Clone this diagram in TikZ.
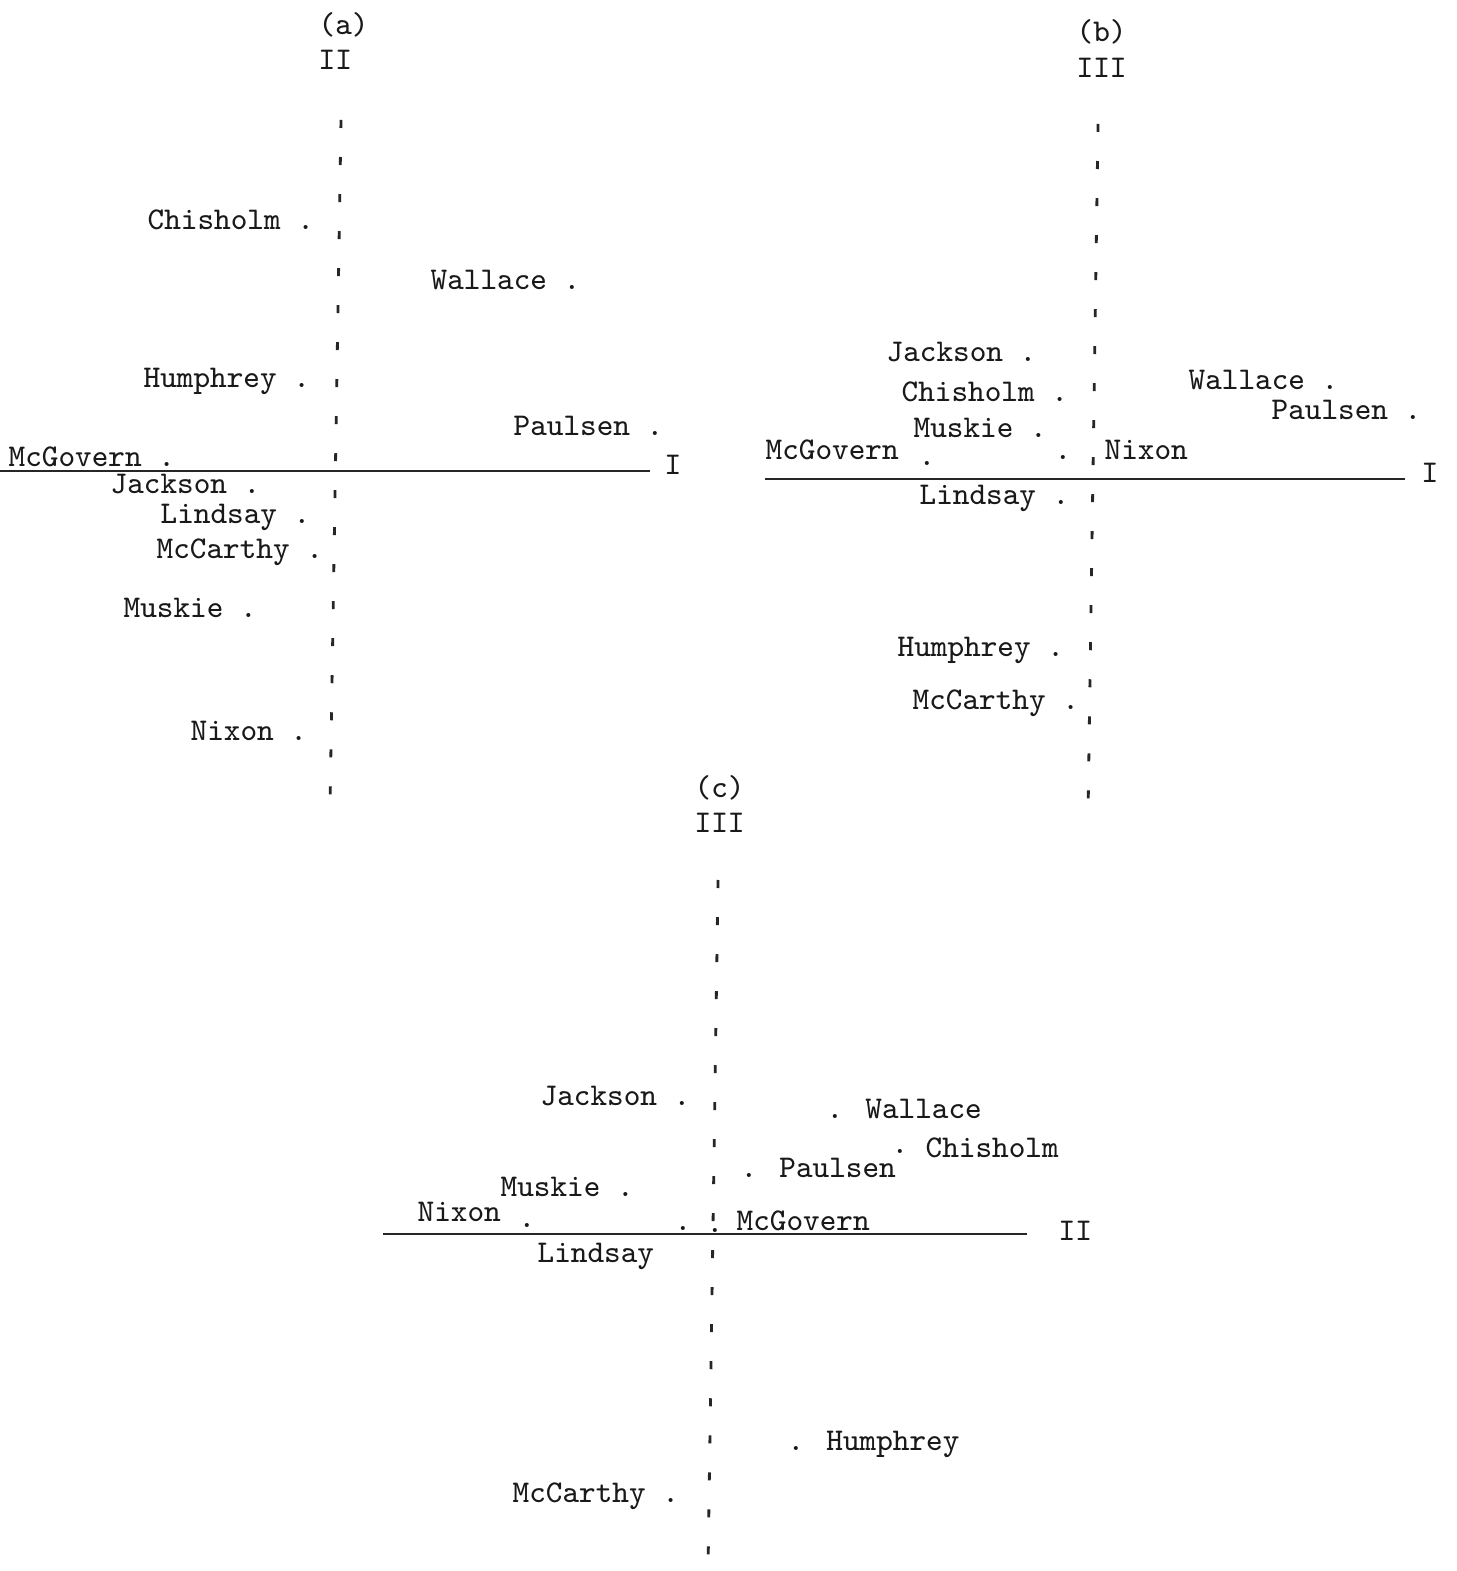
\documentclass[tikz,border=0pt]{standalone}
\usepackage{fontspec}
\begin{document}
\begin{tikzpicture}[x=0.01cm,y=-0.01cm,
  lab/.style={font=\ttfamily\fontsize{9}{10}\selectfont, anchor=base west, inner sep=0pt, text=black!90},
  vaxis/.style={line width=0.8pt, dash pattern=on 0.08cm off 0.29cm, black!85},
  haxis/.style={line width=0.7pt, black!85}]
\fill[white] (0,0) rectangle (1456,1571);
\useasboundingbox (0,0) rectangle (1456,1571);

% ---------- panel (a)
\node[lab] (ta) at (318,35) {(a)};
\node[lab] (ta2) at (318,70) {II};
\coordinate (av1) at (341,120);
\coordinate (av2) at (330,808);
\draw[vaxis] (av1) -- (av2);
\coordinate (ah1) at (0,471);
\coordinate (ah2) at (650,471);
\draw[haxis] (ah1) -- (ah2);
\node[lab] (aI) at (664,475) {I};
\node[lab] (aChi) at (147,230) {Chisholm .};
\node[lab] (aWal) at (430,290) {Wallace .};
\node[lab] (aHum) at (143,388) {Humphrey .};
\node[lab] (aPau) at (513,436) {Paulsen .};
\node[lab] (aMcG) at (8,467) {McGovern .};
\node[lab] (aJac) at (110,494) {Jackson .};
\node[lab] (aLin) at (160,524) {Lindsay .};
\node[lab] (aMcC) at (156,559) {McCarthy .};
\node[lab] (aMus) at (123,618) {Muskie .};
\node[lab] (aNix) at (190,740) {Nixon .};

% ---------- panel (b)
\node[lab] (tb) at (1076,42) {(b)};
\node[lab] (tb2) at (1076,78) {III};
\coordinate (bv1) at (1098,124);
\coordinate (bv2) at (1088,816);
\draw[vaxis] (bv1) -- (bv2);
\coordinate (bh1) at (765,479);
\coordinate (bh2) at (1405,479);
\draw[haxis] (bh1) -- (bh2);
\node[lab] (bI) at (1421,483) {I};
\node[lab] (bJac) at (886,362) {Jackson .};
\node[lab] (bChi) at (901,402) {Chisholm .};
\node[lab] (bMus) at (913,438) {Muskie .};
\node[lab] (bMcG) at (765,460) {McGovern};
\node[lab] (bMcGd) at (918,466) {.};
\node[lab] (bNixd) at (1054,460) {.};
\node[lab] (bNix) at (1104,460) {Nixon};
\node[lab] (bWal) at (1188,390) {Wallace .};
\node[lab] (bPau) at (1271,420) {Paulsen .};
\node[lab] (bLin) at (919,505) {Lindsay .};
\node[lab] (bHum) at (897,657) {Humphrey .};
\node[lab] (bMcC) at (912,710) {McCarthy .};

% ---------- panel (c)
\node[lab] (tc) at (694,797) {(c)};
\node[lab] (tc2) at (694,832) {III};
\coordinate (cv1) at (718,880);
\coordinate (cv2) at (708,1571);
\draw[vaxis] (cv1) -- (cv2);
\coordinate (ch1) at (383,1234);
\coordinate (ch2) at (1027,1234);
\draw[haxis] (ch1) -- (ch2);
\node[lab] (cII) at (1058,1240) {II};
\node[lab] (cJac) at (540,1105) {Jackson .};
\node[lab] (cWal) at (826,1118) {. Wallace};
\node[lab] (cChid) at (891,1153) {.};
\node[lab] (cChi) at (925,1157) {Chisholm};
\node[lab] (cPau) at (740,1177) {. Paulsen};
\node[lab] (cMus) at (500,1196) {Muskie .};
\node[lab] (cNix) at (417,1221) {Nixon};
\node[lab] (cNixd) at (518,1227) {.};
\node[lab] (cLind) at (674,1230) {.};
\node[lab] (cLin) at (537,1262) {Lindsay};
\node[lab] (cMcGd) at (706,1232) {.};
\node[lab] (cMcG) at (736,1230) {McGovern};
\node[lab] (cHum) at (787,1450) {. Humphrey};
\node[lab] (cMcC) at (512,1502) {McCarthy .};
\end{tikzpicture}
\end{document}
